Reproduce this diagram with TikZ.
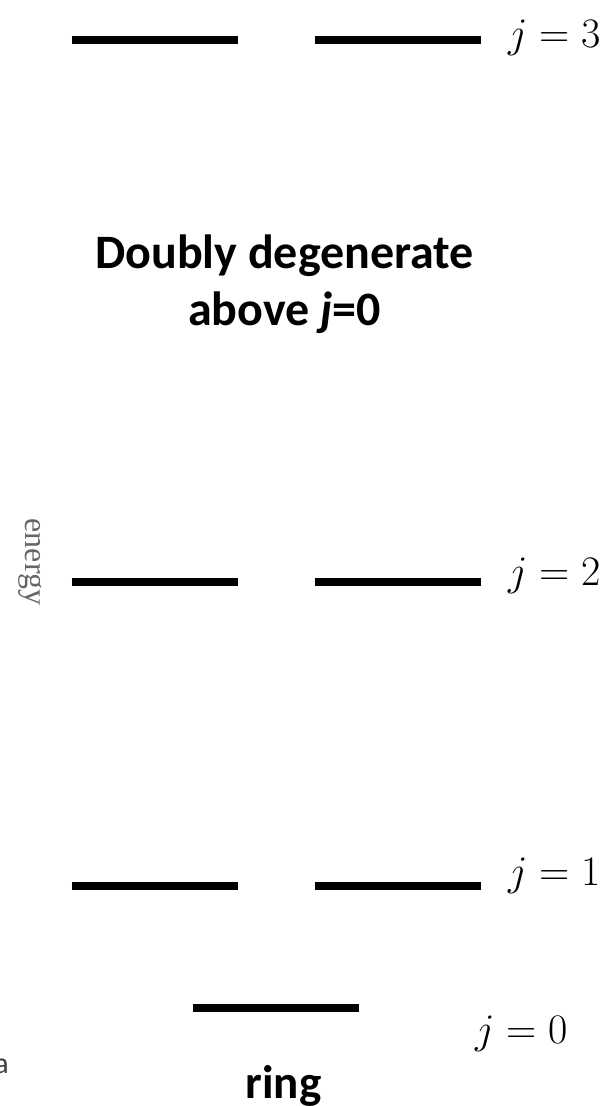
\documentclass[tikz,border=0pt]{standalone}
\usepackage{fix-cm}
\usepackage{fontspec}
\newfontfamily\carlitofont{Carlito}
\newfontfamily\timesfont{Liberation Serif}
\begin{document}
\begin{tikzpicture}[x=1pt,y=-1pt,
  level/.style={line width=8pt,black},
  jlabel/.style={anchor=base west,inner sep=0pt,font=\fontsize{42}{50}\selectfont},
  boldlabel/.style={inner sep=0pt,align=center,font=\carlitofont\bfseries\fontsize{48}{57}\selectfont}]
\useasboundingbox (0,0) rectangle (610,1106);
% levels
\draw[level] (71.5,40) -- (238,40);
\draw[level] (315,40) -- (481,40);
\draw[level] (71.5,582) -- (238,582);
\draw[level] (315,582) -- (481,582);
\draw[level] (71.5,886) -- (238,886);
\draw[level] (315,886) -- (481,886);
\draw[level] (193,1008) -- (359,1008);
% labels
\node[jlabel] (j3) at (508,47) {$j=3$};
\node[jlabel] (j2) at (508,585) {$j=2$};
\node[jlabel] (j1) at (508,885) {$j=1$};
\node[jlabel] (j0) at (475,1043) {$j=0$};
\node[boldlabel,anchor=base] (deg) at (284.5,325) {Doubly degenerate\\above \textit{j}=0};
\node[boldlabel,anchor=base,font=\carlitofont\bfseries\fontsize{47}{56}\selectfont] (ring) at (283.5,1098) {ring};
\node[rotate=-90,inner sep=0pt,text=black!60,font=\timesfont\fontsize{32}{38}\selectfont] (energy) at (30,562) {energy};
\node[anchor=base east,inner sep=0pt,text=black!75,font=\carlitofont\fontsize{30}{36}\selectfont] (frag) at (9,1073) {a};
\end{tikzpicture}
\end{document}
